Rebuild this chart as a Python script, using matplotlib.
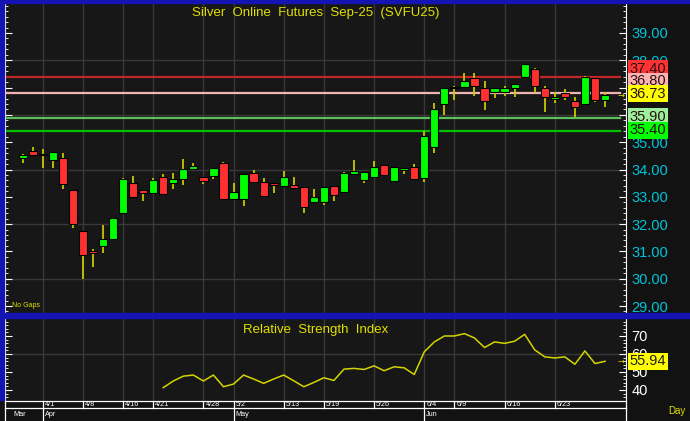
import numpy as np
import matplotlib.pyplot as plt
from matplotlib.patches import Rectangle
from matplotlib.transforms import blended_transform_factory
from matplotlib.ticker import MultipleLocator

# daily OHLC, Silver Sep-25 (index 0 = late March)
opens = [34.41, 34.67, 34.52, 34.35, 34.41, 33.24, 31.74, 31.00, 31.20, 31.45,
         32.41, 33.51, 33.24, 33.14, 33.74, 33.51, 33.64, 34.01, 33.74, 33.77,
         34.24, 32.91, 32.91, 33.88, 33.54, 33.49, 33.41, 33.43, 33.37, 32.80,
         32.80, 33.40, 33.16, 33.84, 33.62, 33.74, 34.16, 33.59, 33.97, 34.10,
         33.68, 34.81, 36.40, 37.03, 37.01, 37.34, 36.97, 36.84, 36.84, 37.00,
         37.38, 37.67, 36.97, 36.58, 36.81, 36.51, 36.40, 37.34, 36.55]
highs = [34.55, 34.84, 34.75, 34.64, 34.59, 33.24, 31.74, 31.08, 31.97, 32.23,
         33.70, 33.76, 33.24, 33.68, 33.84, 33.88, 34.37, 34.23, 33.74, 34.07,
         34.29, 33.52, 33.85, 33.98, 33.68, 33.49, 33.95, 33.71, 33.37, 33.30,
         33.37, 33.40, 33.91, 34.34, 33.90, 34.31, 34.16, 34.10, 34.07, 34.20,
         35.41, 36.45, 36.99, 37.07, 37.52, 37.52, 37.24, 37.00, 37.07, 37.13,
         37.88, 37.73, 37.07, 36.83, 36.94, 36.67, 37.44, 37.34, 36.83]
lows = [34.23, 34.54, 34.04, 34.04, 33.30, 31.87, 30.00, 30.42, 30.93, 31.42,
        32.41, 33.00, 32.85, 33.14, 33.11, 33.30, 33.42, 34.01, 33.47, 33.64,
        32.91, 32.91, 32.66, 33.55, 33.01, 33.13, 33.41, 33.33, 32.42, 32.80,
        32.70, 32.86, 33.16, 33.84, 33.49, 33.74, 33.77, 33.53, 33.85, 33.64,
        33.53, 34.59, 36.00, 36.55, 36.97, 36.70, 36.18, 36.61, 36.70, 36.67,
        37.34, 36.79, 36.12, 36.42, 36.55, 35.93, 36.36, 36.48, 36.30]
closes = [34.54, 34.54, 34.58, 34.64, 33.48, 32.01, 30.87, 30.93, 31.47, 32.23,
          33.66, 33.00, 33.15, 33.60, 33.11, 33.66, 34.03, 34.14, 33.58, 34.07,
          32.91, 33.18, 33.85, 33.55, 33.03, 33.42, 33.74, 33.33, 32.64, 33.00,
          33.37, 33.07, 33.87, 33.93, 33.90, 34.10, 33.80, 34.10, 34.07, 33.64,
          35.22, 36.22, 36.99, 36.97, 37.24, 37.06, 36.51, 37.00, 37.00, 37.13,
          37.88, 37.06, 36.64, 36.67, 36.67, 36.30, 37.38, 36.55, 36.73]

# RSI(14), first value on bar 14
rsi_start = 14
rsi = [41.3, 45.0, 47.7, 48.3, 45.0, 48.3, 41.8, 43.3, 48.3, 46.1,
       43.7, 46.1, 48.3, 45.1, 41.8, 44.2, 46.8, 45.3, 51.6, 52.0,
       51.4, 53.4, 50.7, 52.9, 52.3, 48.6, 61.2, 66.7, 70.0, 70.0,
       71.3, 68.9, 63.6, 66.7, 65.9, 67.1, 70.9, 62.3, 58.4, 57.8,
       58.4, 54.3, 61.7, 54.7, 55.94]

tick_idx = [2, 6, 10, 13, 18, 21, 26, 30, 35, 40, 43, 48, 53]
tick_lbl = ['4/1', '4/8', '4/16', '4/21', '4/28', '5/2', '5/13', '5/19',
            '5/26', '6/4', '6/9', '6/16', '6/23']
month_idx = [2, 21, 40]
month_lbl = ['Apr', 'May', 'Jun']

# price scale labels (36 and 37 sit under the level boxes)
price_ticks = list(range(29, 40))
price_lbls = ['' if v in (36, 37) else f'{v:.2f}' for v in price_ticks]

levels = [37.40, 36.80, 35.90, 35.40]
level_line = ['#c02828', '#f0b4b4', '#5cc05c', '#00c000']
level_box = ['#ff3333', '#ffb4b4', '#9cf09c', '#00ff00']

W, H = 690, 421
BG = '#171717'
BLUE = '#1414b4'
YEL = '#e0e000'
GRID = '#383838'
plt.rcParams['font.family'] = ['Liberation Sans Narrow', 'Liberation Sans', 'DejaVu Sans']

fig = plt.figure(figsize=(W / 100, H / 100), dpi=100, facecolor='#121212')


def px_axes(x0, y0, x1, y1):
    return fig.add_axes([x0 / W, 1 - y1 / H, (x1 - x0) / W, (y1 - y0) / H])


def px_rect(x0, y0, x1, y1, color):
    fig.add_artist(Rectangle((x0 / W, 1 - y1 / H), (x1 - x0) / W, (y1 - y0) / H,
                             transform=fig.transFigure, color=color, zorder=10))


x = np.arange(len(opens))
o, h, l, c = map(np.array, (opens, highs, lows, closes))
xlim = (-1.76, 60.09)

# ---- price panel
ax = px_axes(5, 4, 626, 313)
ax.set_facecolor(BG)
ax.set_xlim(*xlim)
ax.set_ylim(28.744, 40.062)
for v in range(30, 40, 2):
    ax.axhline(v, color=GRID, lw=1, zorder=1)
for t in tick_idx:
    ax.axvline(t, color=GRID, lw=1, zorder=1)

up = c >= o
ax.vlines(x, l, h, color='#c8c800', lw=1.3, zorder=3)
ax.bar(x, np.maximum(np.abs(c - o), 0.05), bottom=np.minimum(o, c), width=0.82,
       color=np.where(up, '#00ff00', '#ff3030'), edgecolor='#000000', lw=0.8, zorder=4)

for v, col in zip(levels, level_line):
    ax.plot([xlim[0], 59.5], [v, v], color=col, lw=1.6, zorder=2)

ax.set_xticks([])
ax.set_yticks(price_ticks)
ax.set_yticklabels(price_lbls)
ax.yaxis.set_minor_locator(MultipleLocator(0.2))
ax.tick_params(axis='y', which='both', direction='in', left=True, right=True,
               labelleft=False, labelright=True, color='white')
ax.tick_params(axis='y', which='major', length=5, labelsize=10.5,
               labelcolor='#00c4d8', pad=4)
ax.tick_params(axis='y', which='minor', length=2.5)
for s in ('top', 'bottom'):
    ax.spines[s].set_visible(False)
for s in ('left', 'right'):
    ax.spines[s].set_color('white')

ax.text(0.5, 0.972, 'Silver  Online  Futures  Sep-25  (SVFU25)', transform=ax.transAxes,
        ha='center', va='center', color=YEL, fontsize=9.5, family=['Liberation Sans', 'DejaVu Sans'])
ax.text(0.011, 0.012, 'No Gaps', transform=ax.transAxes, ha='left', va='bottom',
        color=YEL, fontsize=5)

# value boxes on the right, stacked so they do not overlap
tr = blended_transform_factory(ax.transAxes, ax.transData)
boxes = [(37.40, level_box[0]), (36.80, level_box[1]), (closes[-1], '#ffff00'),
         (35.90, level_box[2]), (35.40, level_box[3])]
hb = 0.46
pos = [b[0] for b in boxes]
for i in range(len(pos) - 2, -1, -1):
    pos[i] = max(pos[i], pos[i + 1] + hb)
for (v, col), p in zip(boxes, pos):
    ax.text(1.006, p + 0.04, f'{v:.2f}', transform=tr, ha='left', va='center',
            fontsize=10.5, color='#2a1010', clip_on=False, zorder=6,
            bbox=dict(boxstyle='square,pad=0.1', fc=col, ec='none'))
ax.text(0.997, closes[-1], '→', transform=tr, ha='right', va='center',
        color=YEL, fontsize=6, family='DejaVu Sans', zorder=5)

# ---- RSI panel
ax2 = px_axes(5, 319, 626, 400)
ax2.set_facecolor(BG)
ax2.set_xlim(*xlim)
ax2.set_ylim(34.44, 79.44)
ax2.axhline(60, color=GRID, lw=1, zorder=1)
for t in tick_idx:
    ax2.axvline(t, color=GRID, lw=1, zorder=1)
ax2.plot(np.arange(rsi_start, rsi_start + len(rsi)), rsi, color='#d4d400', lw=1.1, zorder=3)
ax2.set_xticks([])
ax2.set_yticks([40, 50, 60, 70])
ax2.yaxis.set_minor_locator(MultipleLocator(2))
ax2.tick_params(axis='y', which='both', direction='in', left=True, right=True,
                labelleft=False, labelright=True, color='white')
ax2.tick_params(axis='y', which='major', length=5, labelsize=10.5,
                labelcolor='white', pad=4)
ax2.tick_params(axis='y', which='minor', length=2.5)
for s in ('top', 'bottom'):
    ax2.spines[s].set_visible(False)
for s in ('left', 'right'):
    ax2.spines[s].set_color('white')
ax2.text(0.5, 0.87, 'Relative  Strength  Index', transform=ax2.transAxes,
         ha='center', va='center', color=YEL, fontsize=9.5, family=['Liberation Sans', 'DejaVu Sans'])
tr2 = blended_transform_factory(ax2.transAxes, ax2.transData)
ax2.text(1.006, rsi[-1], f'{rsi[-1]:.2f}', transform=tr2, ha='left', va='center',
         fontsize=10.5, color='#202020', clip_on=False, zorder=6,
         bbox=dict(boxstyle='square,pad=0.1', fc='#ffff00', ec='none'))
ax2.text(0.997, rsi[-1], '→', transform=tr2, ha='right', va='center',
         color=YEL, fontsize=6, family='DejaVu Sans')

# ---- date axis (y in pixel rows)
axd = px_axes(0, 400, 690, 421)
axd.set_xlim(xlim[0] - 5 / 10.04, xlim[0] + 685 / 10.04)
axd.set_ylim(421, 400)
axd.axis('off')
x_l, x_r = xlim
axd.plot([x_l, x_r], [400.7, 400.7], color='white', lw=0.9)
axd.plot([x_l, x_r], [408.3, 408.3], color='white', lw=0.9)
axd.plot([x_l, x_l], [400.7, 421], color='white', lw=0.9)
axd.plot([x_r, x_r], [400.7, 421], color='white', lw=0.9)
for t, s in zip(tick_idx, tick_lbl):
    axd.plot([t, t], [400.7, 408.3], color='white', lw=0.9)
    axd.text(t + 0.2, 404.8, s, color='white', fontsize=5.2, ha='left', va='center')
axd.text(x_l + 0.8, 415, 'Mar', color='white', fontsize=5.2, ha='left', va='center')
for t, s in zip(month_idx, month_lbl):
    axd.plot([t, t], [408.3, 421], color='white', lw=0.9)
    axd.text(t + 0.2, 415, s, color='white', fontsize=5.2, ha='left', va='center')
axd.text(xlim[0] + 672 / 10.04, 411, 'Day', color=YEL, fontsize=7, ha='center', va='center')

# blue frame
px_rect(0, 0, W, 3, BLUE)
px_rect(0, 0, 4, 400, BLUE)
px_rect(0, 313, W, 318, BLUE)

fig.savefig('out.png', dpi=100, facecolor=fig.get_facecolor())
